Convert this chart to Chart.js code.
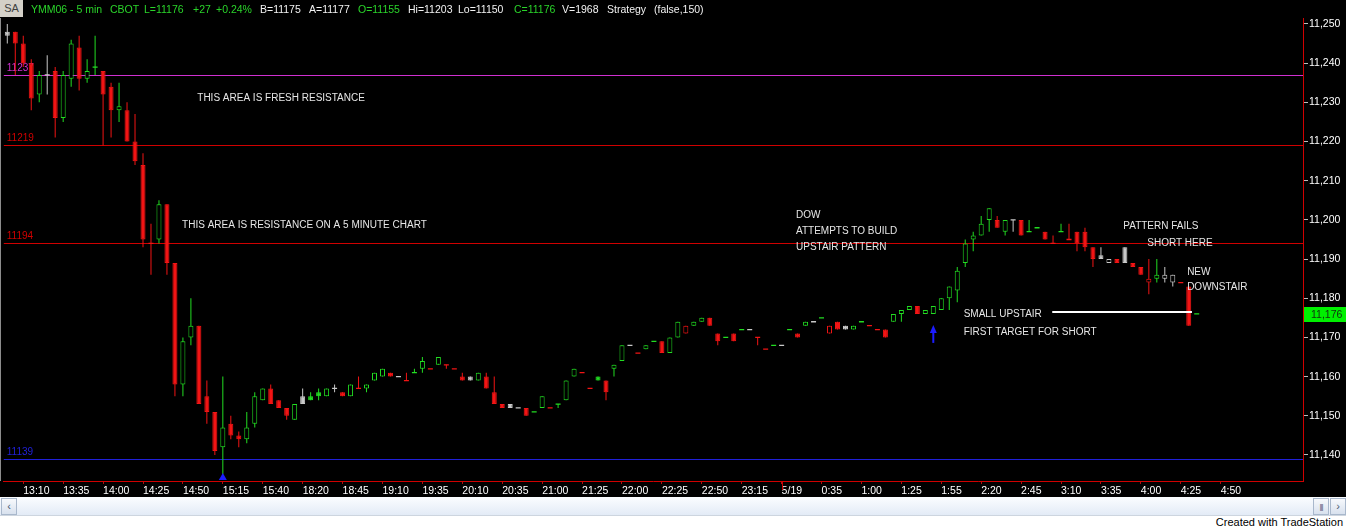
<!DOCTYPE html>
<html>
<head>
<meta charset="utf-8">
<title>YMM06 - 5 min</title>
<script src="https://cdn.jsdelivr.net/npm/chart.js@4.4.1/dist/chart.umd.min.js"></script>
<style>
  body { margin: 0; width: 1346px; height: 530px; overflow: hidden; background: #fff; font-family: "Liberation Sans", Arial, sans-serif; }
  #wrap { position: relative; width: 1346px; height: 497px; background: #000; }
  #chart { position: absolute; left: 0; top: 0; }
  #hdr span { position: absolute; top: 2px; font-size: 10.5px; line-height: 14px; white-space: nowrap; color: #f2f2f2; }
  #hdr .g { color: #2ad42a; }
  #hdr .sa { left: 0; top: 0; width: 23px; height: 17px; line-height: 17px; background: #d4d0c8; color: #404040; text-align: center; font-size: 11px; }
  #scroll { position: relative; height: 18px; background: linear-gradient(#fbfdff, #e3ebf6); border-bottom: 1px solid #cdd5df; }
  #scroll .btn { position: absolute; top: 1px; width: 14px; height: 15px; border: 1px solid #a9b8cc; background: linear-gradient(#f7f9fc, #d8e1ee); font-size: 11px; line-height: 15px; text-align: center; color: #4a5a70; }
  #credit { position: absolute; right: 3px; top: 516px; font-size: 11px; color: #000; }
</style>
</head>
<body>
<div id="wrap">
  <canvas id="chart" width="1346" height="497"></canvas>
  <div id="hdr">
    <span class="sa">SA</span>
    <span class="g" style="left:31px">YMM06 - 5 min</span>
    <span class="g" style="left:110px">CBOT</span>
    <span class="g" style="left:144px">L=11176</span>
    <span class="g" style="left:193px">+27</span>
    <span class="g" style="left:216px">+0.24%</span>
    <span style="left:260px">B=11175</span>
    <span style="left:309px">A=11177</span>
    <span class="g" style="left:358px">O=11155</span>
    <span style="left:408px">Hi=11203</span>
    <span style="left:458px">Lo=11150</span>
    <span class="g" style="left:514px">C=11176</span>
    <span style="left:562px">V=1968</span>
    <span style="left:607px">Strategy</span>
    <span style="left:654px">(false,150)</span>
  </div>
</div>
<div id="scroll">
  <div class="btn" style="left:1px">&lsaquo;</div>
  <div class="btn" style="left:1313px;font-size:8px;letter-spacing:-1px">|||</div>
  <div class="btn" style="left:1330px">&rsaquo;</div>
</div>
<div id="credit">Created with TradeStation</div>

<script>
// 5 minute YM bars, oldest first
const opens = [
  11248, 11248, 11245, 11240, 11232, 11237, 11238, 11226, 11236, 11244,
  11236, 11239, 11238, 11234, 11228, 11228, 11220, 11214, 11194, 11195,
  11204, 11189, 11158, 11170, 11173, 11155, 11151, 11142, 11148, 11145,
  11144, 11148, 11154, 11157, 11154, 11152, 11149, 11155, 11155, 11156,
  11155, 11157, 11156, 11155, 11157, 11157, 11159, 11160, 11161, 11160,
  11159, 11161, 11162, 11162, 11163, 11163, 11162, 11160, 11160, 11159,
  11160, 11156, 11153, 11153, 11152, 11152, 11151, 11152, 11152, 11153,
  11154, 11160, 11161, 11157, 11160, 11159, 11162, 11164, 11168, 11166,
  11167, 11169, 11169, 11166, 11170, 11171, 11173, 11174, 11175, 11171,
  11170, 11171, 11172, 11172, 11170, 11167, 11168, 11168, 11172, 11171,
  11173, 11174, 11175, 11171, 11174, 11173, 11172, 11174, 11173, 11172,
  11172, 11174, 11176, 11177, 11178, 11176, 11176, 11177, 11180, 11182,
  11189, 11195, 11196, 11200, 11200, 11197, 11200, 11200, 11197, 11198,
  11197, 11194, 11197, 11195, 11197, 11197, 11193, 11191, 11189, 11190,
  11193, 11189, 11188, 11184, 11185, 11185, 11184, 11184, 11183, 11176
];
const highs = [
  11250, 11248, 11247, 11241, 11238, 11242, 11239, 11238, 11246, 11247,
  11241, 11247, 11238, 11235, 11235, 11230, 11227, 11217, 11199, 11205,
  11204, 11189, 11170, 11180, 11173, 11159, 11151, 11160, 11150, 11146,
  11151, 11156, 11157, 11158, 11154, 11152, 11153, 11157, 11156, 11157,
  11157, 11158, 11156, 11158, 11160, 11158, 11161, 11162, 11161, 11160,
  11161, 11162, 11165, 11162, 11165, 11163, 11162, 11161, 11160, 11161,
  11161, 11160, 11153, 11153, 11152, 11152, 11151, 11155, 11152, 11153,
  11159, 11162, 11161, 11157, 11160, 11159, 11163, 11168, 11168, 11166,
  11168, 11169, 11169, 11170, 11174, 11173, 11174, 11175, 11175, 11171,
  11170, 11171, 11172, 11172, 11170, 11167, 11168, 11168, 11172, 11171,
  11174, 11174, 11175, 11173, 11174, 11173, 11173, 11174, 11173, 11172,
  11172, 11176, 11177, 11178, 11178, 11177, 11178, 11180, 11183, 11188,
  11195, 11197, 11201, 11203, 11201, 11200, 11200, 11200, 11200, 11198,
  11197, 11196, 11199, 11199, 11197, 11198, 11193, 11193, 11190, 11190,
  11193, 11189, 11188, 11190, 11190, 11188, 11186, 11184, 11183, 11176
];
const lows = [
  11245, 11237, 11239, 11228, 11230, 11232, 11221, 11225, 11234, 11233,
  11235, 11237, 11219, 11221, 11225, 11220, 11214, 11193, 11186, 11194,
  11186, 11155, 11155, 11168, 11153, 11148, 11140, 11135, 11144, 11142,
  11143, 11147, 11154, 11153, 11152, 11149, 11149, 11153, 11154, 11154,
  11155, 11156, 11155, 11155, 11157, 11156, 11159, 11160, 11160, 11160,
  11159, 11161, 11161, 11162, 11163, 11162, 11162, 11159, 11159, 11159,
  11157, 11153, 11152, 11152, 11152, 11150, 11151, 11152, 11152, 11152,
  11154, 11160, 11161, 11157, 11159, 11154, 11160, 11164, 11168, 11166,
  11167, 11169, 11166, 11166, 11170, 11171, 11173, 11174, 11173, 11168,
  11170, 11169, 11172, 11172, 11168, 11167, 11168, 11168, 11172, 11170,
  11173, 11174, 11175, 11171, 11172, 11172, 11172, 11174, 11173, 11172,
  11170, 11174, 11174, 11177, 11176, 11176, 11176, 11177, 11177, 11179,
  11188, 11192, 11196, 11197, 11198, 11196, 11197, 11196, 11197, 11198,
  11195, 11194, 11197, 11195, 11192, 11192, 11188, 11190, 11189, 11189,
  11189, 11188, 11186, 11181, 11184, 11184, 11183, 11184, 11173, 11176
];
const closes = [
  11247, 11245, 11240, 11231, 11237, 11237, 11226, 11237, 11245, 11236,
  11238, 11239, 11232, 11228, 11229, 11220, 11215, 11195, 11194, 11204,
  11189, 11158, 11169, 11173, 11153, 11151, 11141, 11147, 11145, 11144,
  11147, 11155, 11157, 11153, 11152, 11150, 11153, 11153, 11154, 11155,
  11157, 11157, 11155, 11158, 11157, 11158, 11161, 11162, 11160, 11160,
  11159, 11161, 11164, 11162, 11165, 11163, 11162, 11159, 11159, 11161,
  11157, 11153, 11152, 11152, 11152, 11150, 11151, 11155, 11152, 11153,
  11159, 11162, 11161, 11157, 11159, 11156, 11163, 11168, 11168, 11166,
  11168, 11169, 11166, 11170, 11174, 11173, 11174, 11175, 11173, 11169,
  11170, 11169, 11172, 11172, 11170, 11167, 11168, 11168, 11172, 11170,
  11174, 11174, 11175, 11173, 11172, 11172, 11173, 11174, 11173, 11172,
  11170, 11176, 11177, 11178, 11176, 11177, 11178, 11180, 11183, 11187,
  11194, 11196, 11199, 11203, 11198, 11200, 11200, 11196, 11197, 11198,
  11195, 11194, 11197, 11195, 11194, 11193, 11190, 11190, 11190, 11189,
  11189, 11188, 11186, 11185, 11186, 11186, 11186, 11184, 11173, 11176
];
const priorClose = 11247;

// time axis: one label every 5 bars
const tickLabels = ['13:10', '13:35', '14:00', '14:25', '14:50', '15:15', '15:40', '18:20', '18:45', '19:10',
  '19:35', '20:10', '20:35', '21:00', '21:25', '22:00', '22:25', '22:50', '23:15', '5/19',
  '0:35', '1:00', '1:25', '1:55', '2:20', '2:45', '3:10', '3:35', '4:00', '4:25', '4:50'];
const firstLabelBar = 2;
const barsPerLabel = 5;
const dayBreakLabel = '5/19';
const priceTicks = [11140, 11150, 11160, 11170, 11180, 11190, 11200, 11210, 11220, 11230, 11240, 11250];

// horizontal levels drawn on the chart
const levelPrices = [11237, 11219, 11194, 11139];
const levelColors = ['#d030d0', '#d00000', '#d00000', '#2020d8'];

const UP = '#22dd22', DOWN = '#f21414', FLAT = '#c8c8c8';

const bodies = [], bodyFill = [], bodyLine = [];
const wicks = [], wickColor = [];
const dashes = [], dashColor = [];
closes.forEach((c, i) => {
  const prev = i === 0 ? priorClose : closes[i - 1];
  const col = c > prev ? UP : (c < prev ? DOWN : FLAT);
  const o = opens[i];
  if (highs[i] > lows[i]) {
    wicks.push({ x: i, y: [lows[i], highs[i]] });
    wickColor.push(col);
  }
  if (o !== c) {
    bodies.push({ x: i, y: [Math.min(o, c), Math.max(o, c)] });
    bodyLine.push(col);
    bodyFill.push(c < o ? col : '#000');
  } else {
    dashes.push({ x: i, y: c });
    dashColor.push(col);
  }
});

const notes = [
  { text: 'THIS AREA IS FRESH RESISTANCE', bar: 23.8, price: 11231.1 },
  { text: 'THIS AREA IS RESISTANCE ON A 5 MINUTE CHART', bar: 21.9, price: 11198.7 },
  { text: 'DOW', bar: 98.8, price: 11201.3 },
  { text: 'ATTEMPTS TO BUILD', bar: 98.8, price: 11197.0 },
  { text: 'UPSTAIR PATTERN', bar: 98.8, price: 11192.9 },
  { text: 'PATTERN FAILS', bar: 139.8, price: 11198.4 },
  { text: 'SHORT HERE', bar: 142.8, price: 11194.1 },
  { text: 'NEW', bar: 147.8, price: 11186.7 },
  { text: 'DOWNSTAIR', bar: 147.8, price: 11182.7 },
  { text: 'SMALL UPSTAIR', bar: 119.8, price: 11176.0 },
  { text: 'FIRST TARGET FOR SHORT', bar: 119.8, price: 11171.2 }
];

const overlay = {
  id: 'overlay',
  beforeDatasetsDraw(chart) {
    const { ctx, chartArea: a, scales: { y } } = chart;
    ctx.save();
    ctx.fillStyle = '#8c8c8c';
    ctx.fillRect(0, a.top, 1, a.bottom - a.top);
    ctx.font = '10px "Liberation Sans", Arial';
    ctx.textBaseline = 'bottom';
    levelPrices.forEach((p, k) => {
      const py = Math.round(y.getPixelForValue(p));
      ctx.fillStyle = levelColors[k];
      ctx.fillRect(a.left, py, a.right - a.left, 1);
      ctx.fillText(String(p), a.left + 3, py - 2);
    });
    ctx.restore();
  },
  afterDatasetsDraw(chart) {
    const { ctx, scales: { x, y } } = chart;
    ctx.save();
    ctx.fillStyle = '#e6e6e6';
    ctx.font = '10px "Liberation Sans", Arial';
    ctx.textBaseline = 'middle';
    notes.forEach(n => ctx.fillText(n.text, x.getPixelForValue(n.bar), y.getPixelForValue(n.price)));
    // target line after SMALL UPSTAIR
    const ty = Math.round(y.getPixelForValue(11176.5));
    ctx.fillStyle = '#ffffff';
    ctx.fillRect(x.getPixelForValue(130.9), ty - 1, x.getPixelForValue(148.4) - x.getPixelForValue(130.9), 2);
    // blue markers
    ctx.fillStyle = '#1c1cff';
    const ax = x.getPixelForValue(116), ay = y.getPixelForValue(11173.2);
    ctx.beginPath();
    ctx.moveTo(ax, ay);
    ctx.lineTo(ax - 3.5, ay + 8);
    ctx.lineTo(ax + 3.5, ay + 8);
    ctx.closePath();
    ctx.fill();
    ctx.fillRect(ax - 1, ay + 7, 2, 11);
    const tx = x.getPixelForValue(27), tyy = y.getPixelForValue(11135.4);
    ctx.beginPath();
    ctx.moveTo(tx, tyy);
    ctx.lineTo(tx - 4, tyy + 7);
    ctx.lineTo(tx + 4, tyy + 7);
    ctx.closePath();
    ctx.fill();
    ctx.restore();
  },
  afterDraw(chart) {
    const { ctx, chartArea: a, scales: { x, y } } = chart;
    ctx.save();
    // day break marker on the time axis
    const k = tickLabels.indexOf(dayBreakLabel);
    const dx = Math.round(x.getPixelForValue(firstLabelBar + k * barsPerLabel));
    ctx.fillStyle = '#d00000';
    ctx.fillRect(dx, a.bottom, 1, 9);
    // last price box
    const last = closes[closes.length - 1];
    const py = Math.round(y.getPixelForValue(last));
    ctx.fillStyle = '#00f000';
    ctx.fillRect(a.right + 1, py - 7, chart.width - a.right - 1, 15);
    ctx.fillStyle = '#103010';
    ctx.font = '10.5px "Liberation Sans", Arial';
    ctx.textBaseline = 'middle';
    ctx.fillText(last.toLocaleString('en-US'), a.right + 8, py + 1);
    ctx.restore();
  }
};

const axisFont = { family: '"Liberation Sans", Arial', size: 10.5 };

new Chart(document.getElementById('chart').getContext('2d'), {
  type: 'bar',
  data: {
    datasets: [
      {
        type: 'line', data: dashes, showLine: false, order: 0,
        pointStyle: 'line', pointRadius: 2.5, pointHoverRadius: 2.5,
        pointBorderWidth: 1.3, pointBorderColor: dashColor, pointBackgroundColor: dashColor
      },
      {
        data: bodies, order: 1, grouped: false, barThickness: 5,
        backgroundColor: bodyFill, borderColor: bodyLine, borderWidth: 1,
        borderSkipped: false, inflateAmount: 0
      },
      {
        data: wicks, order: 2, grouped: false, barThickness: 1,
        backgroundColor: wickColor, borderWidth: 0, inflateAmount: 0
      }
    ]
  },
  options: {
    responsive: false,
    animation: false,
    events: [],
    layout: { padding: { top: 18, left: 1 } },
    plugins: { legend: { display: false }, tooltip: { enabled: false } },
    scales: {
      x: {
        type: 'linear',
        offset: false,
        min: -0.4375,
        max: 162.3125,
        afterBuildTicks: s => { s.ticks = tickLabels.map((_, k) => ({ value: firstLabelBar + k * barsPerLabel })); },
        afterFit: s => { s.height = 16; },
        ticks: {
          autoSkip: false, maxRotation: 0, minRotation: 0, align: 'start',
          color: '#ffffff', font: axisFont, padding: 1,
          callback: (v, i) => tickLabels[i]
        },
        grid: { drawOnChartArea: false, tickLength: 3, color: '#b01010', offset: false },
        border: { color: '#d00000' }
      },
      y: {
        position: 'right',
        min: 11133.36,
        max: 11251.53,
        afterBuildTicks: s => { s.ticks = priceTicks.map(v => ({ value: v })); },
        afterFit: s => { s.width = 43; },
        ticks: { color: '#ffffff', font: axisFont, padding: 1, callback: v => v.toLocaleString('en-US') },
        grid: { drawOnChartArea: false, tickLength: 5, color: '#bdbdbd' },
        border: { color: '#d00000' }
      }
    }
  },
  plugins: [overlay]
});
</script>
</body>
</html>
